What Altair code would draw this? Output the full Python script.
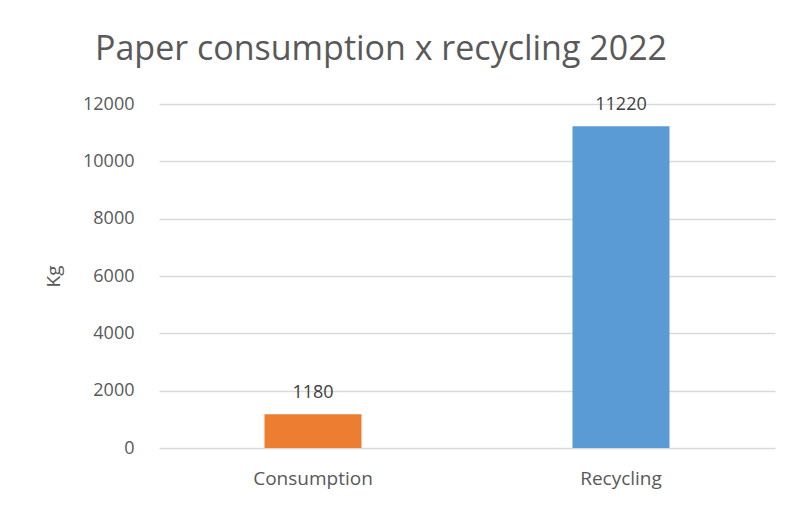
import altair as alt
import pandas as pd

categories = ["Consumption", "Recycling"]
values = [1180, 11220]
colors = ["#ED7D31", "#5B9BD5"]
y_ticks = [0, 2000, 4000, 6000, 8000, 10000, 12000]

df = pd.DataFrame({"category": categories, "kg": values, "color": colors})

FONT = "Open Sans"

x = alt.X(
    "category:N",
    sort=categories,
    scale=alt.Scale(paddingInner=0.685, paddingOuter=0.3425),
    axis=alt.Axis(
        title=None, labelAngle=0, labelFontSize=19, labelColor="#595959",
        labelFont=FONT, ticks=False, domain=False, labelPadding=21, grid=False,
    ),
)
y = alt.Y(
    "kg:Q",
    scale=alt.Scale(domain=[0, 12000]),
    axis=alt.Axis(
        title="Kg", titleFontSize=19, titleColor="#595959", titleFont=FONT,
        titleFontWeight="normal", titlePadding=19,
        values=y_ticks, format="d", labelFontSize=18, labelColor="#595959",
        labelFont=FONT, ticks=False, domain=False, labelPadding=25,
        gridColor="#D9D9D9", gridWidth=1.3,
    ),
)

bars = alt.Chart(df).mark_bar().encode(
    x=x, y=y, color=alt.Color("color:N", scale=None)
)
labels = alt.Chart(df).mark_text(
    dy=-21, fontSize=18, color="#404040", font=FONT
).encode(x=x, y=y, text=alt.Text("kg:Q", format="d"))

chart = (
    (bars + labels)
    .properties(
        width=616,
        height=344,
        autosize=alt.AutoSizeParams(type="none"),
        padding={"left": 151, "top": 96, "right": 20, "bottom": 50},
        title=alt.TitleParams(
            "Paper consumption x recycling 2022",
            fontSize=34, font=FONT, fontWeight="normal", color="#595959",
            anchor="start", frame="group", dx=-64, offset=1,
            baseline="alphabetic",
        ),
    )
    .configure_view(stroke=None)
)

chart.save("out.html", embed_options={"renderer": "svg", "actions": False})
